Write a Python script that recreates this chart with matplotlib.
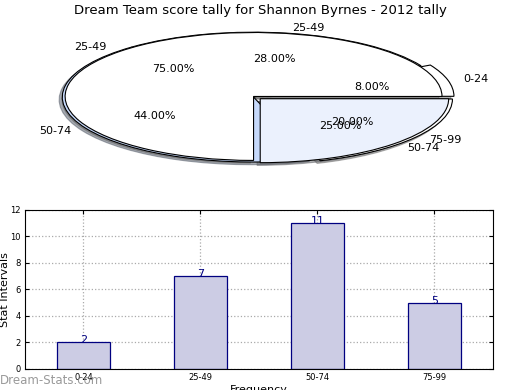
import numpy as np
import matplotlib.pyplot as plt

# score tally data
intervals = ['0-24', '25-49', '50-74', '75-99']
counts = [2, 7, 11, 5]

# second (overlaid) pie from the original page
pie2_labels = ['25-49', '50-74']
pie2_values = [75, 25]

title = 'Dream Team score tally for Shannon Byrnes - 2012 tally'

fig = plt.figure(figsize=(5.2, 3.9), dpi=100)

# ---- pie chart (squashed, no equal aspect) ----
ax1 = fig.add_axes([0.0346, 0.546, 0.906, 0.41])
shadow = {'ox': -0.012, 'oy': -0.03, 'shade': 0.6}
ax1.pie(counts, labels=intervals, autopct='%.2f%%',
        colors=['white', 'white', '#c6d9fb', 'white'],
        explode=[0.05, 0, 0, 0.05], shadow=shadow, radius=1.015,
        labeldistance=1.085, pctdistance=0.59,
        wedgeprops={'edgecolor': 'black', 'linewidth': 0.8},
        textprops={'fontsize': 8})
ax1.pie(pie2_values, labels=pie2_labels, autopct='%.2f%%',
        colors=['white', '#ebf1fd'], explode=[0, 0.05], shadow=shadow,
        center=(0.0, 0.01),
        wedgeprops={'edgecolor': 'black', 'linewidth': 0.8},
        textprops={'fontsize': 8})
ax1.set_aspect('auto')
ax1.set_xlim(-1.25, 1.25)
ax1.set_ylim(-1.25, 1.25)
ax1.axis('off')

fig.text(0.5, 0.972, title, ha='center', va='center', fontsize=9.5)

# ---- bar chart ----
ax2 = fig.add_axes([0.048, 0.054, 0.9, 0.408])
x = np.arange(len(intervals))
ax2.bar(x, counts, width=0.45, color='#ccccE4', edgecolor='#000080', linewidth=0.9, zorder=2)
for xi, c in zip(x, counts):
    ax2.text(xi, c + 0.15, str(c), ha='center', va='center', fontsize=8, color='#000080', zorder=3)

ax2.set_xlim(-0.5, 3.5)
ax2.set_ylim(0, 12)
ax2.set_yticks(range(0, 13, 2))
ax2.set_xticks(x)
ax2.set_xticklabels(intervals)
ax2.tick_params(direction='in', labelsize=6, length=3, top=True, right=True, pad=3)
ax2.grid(True, linestyle=':', color='#aaaaaa', linewidth=0.9, zorder=0)
ax2.set_axisbelow(True)
ax2.set_ylabel('Stat Intervals', fontsize=8)
ax2.yaxis.set_label_coords(-0.032, 0.5)
ax2.set_xlabel('Frequency', fontsize=8, labelpad=2)

fig.text(0.0, 0.025, 'Dream-Stats.com', ha='left', va='center', fontsize=8.5,
         color='#888888', alpha=0.85)

fig.savefig('out.png', dpi=100)
